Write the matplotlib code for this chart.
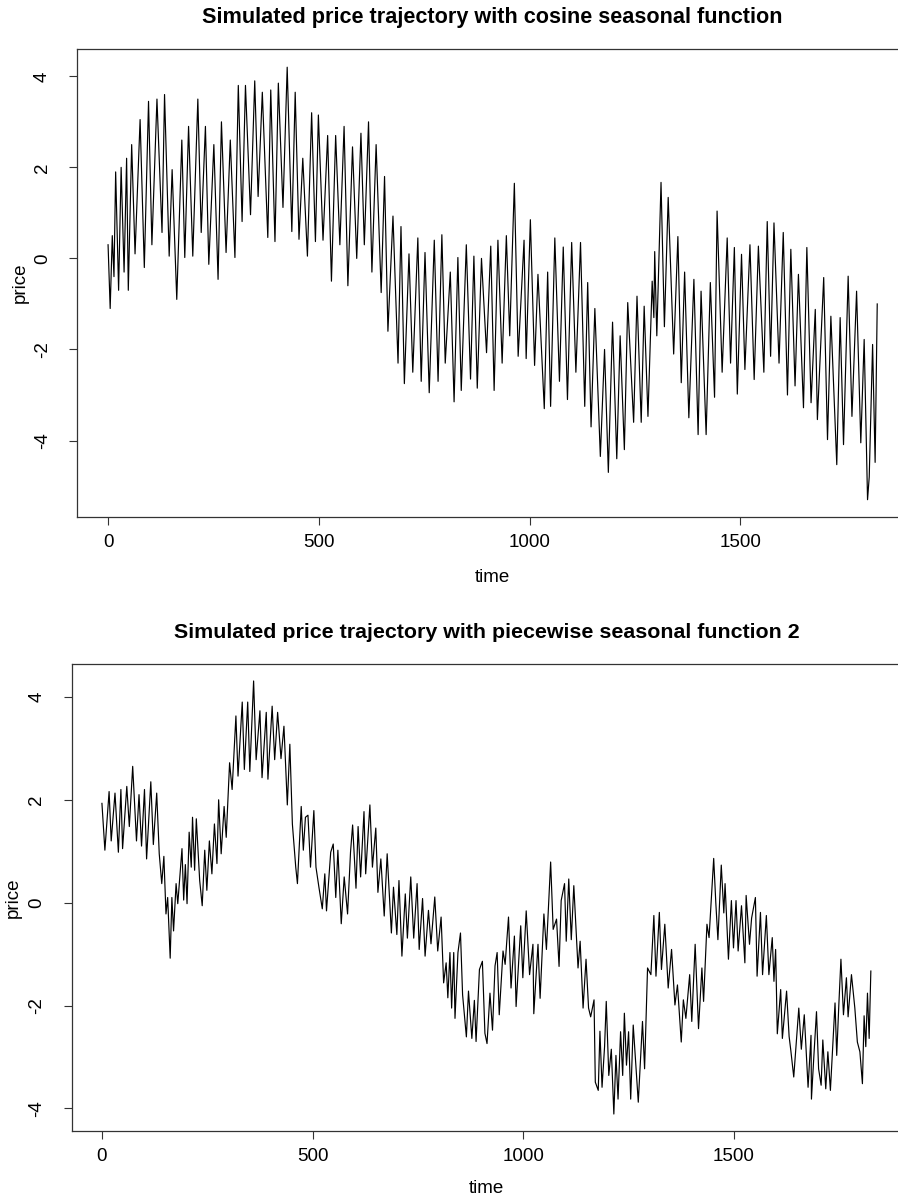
import matplotlib
matplotlib.use("Agg")
import matplotlib.pyplot as plt

plt.rcParams['font.family'] = ['Liberation Sans', 'DejaVu Sans']

# ---------------- data (turning points) ----------------
top_title = "Simulated price trajectory with cosine seasonal function"
bottom_title = "Simulated price trajectory with piecewise seasonal function 2"
x_label = "time"
y_label = "price"
x_ticks = [0, 500, 1000, 1500]
top_y_ticks = [-4, -2, 0, 2, 4]
bottom_y_ticks = [-4, -2, 0, 2, 4]

top_time = [
    0, 5, 10, 14, 18, 25, 31, 38, 44, 48,
    56, 64, 76, 86, 96, 104, 116, 128, 134, 145,
    152, 163, 175, 182, 191, 201, 213, 221, 231, 239,
    251, 261, 269, 280, 290, 301, 309, 318, 326, 338,
    348, 356, 366, 379, 386, 396, 404, 415, 425, 436,
    444, 453, 462, 473, 483, 492, 499, 510, 521, 530,
    540, 550, 560, 569, 580, 590, 600, 608, 618, 626,
    636, 648, 656, 664, 676, 688, 695, 703, 714, 723,
    735, 743, 752, 762, 774, 783, 792, 800, 812, 821,
    830, 838, 850, 860, 868, 876, 886, 898, 908, 916,
    925, 935, 945, 953, 964, 973, 987, 992, 1002, 1012,
    1020, 1035, 1043, 1050, 1060, 1071, 1080, 1090, 1100, 1110,
    1121, 1131, 1138, 1146, 1155, 1168, 1178, 1187, 1197, 1207,
    1215, 1225, 1233, 1247, 1255, 1265, 1272, 1281, 1291, 1295,
    1297, 1302, 1312, 1320, 1329, 1342, 1352, 1360, 1368, 1378,
    1390, 1400, 1407, 1419, 1429, 1439, 1445, 1457, 1469, 1477,
    1486, 1493, 1503, 1511, 1523, 1533, 1543, 1556, 1564, 1572,
    1580, 1592, 1602, 1612, 1620, 1630, 1638, 1650, 1658, 1668,
    1678, 1683, 1698, 1707, 1715, 1729, 1737, 1745, 1756, 1765,
    1776, 1786, 1794, 1802, 1806, 1814, 1820, 1825]

top_price = [
    0.3, -1.1, 0.5, -0.4, 1.9, -0.7, 2.0, -0.3, 2.2, -0.7,
    2.5, 0.1, 3.05, -0.2, 3.45, 0.3, 3.5, 0.57, 3.6, 0.05,
    1.95, -0.9, 2.6, 0.02, 2.9, 0.05, 3.5, 0.57, 2.9, -0.13,
    2.5, -0.46, 3.0, 0.13, 2.6, 0.02, 3.8, 0.81, 3.8, 0.96,
    3.9, 1.36, 3.65, 0.46, 3.7, 0.37, 3.85, 1.12, 4.2, 0.59,
    3.65, 0.42, 2.2, 0.05, 3.2, 0.37, 3.15, 0.4, 2.7, -0.5,
    2.7, 0.3, 2.9, -0.6, 2.45, 0.0, 2.75, 0.3, 3.0, -0.3,
    2.5, -0.75, 1.8, -1.6, 0.93, -2.3, 0.7, -2.75, 0.1, -2.5,
    0.45, -2.7, 0.13, -2.95, 0.4, -2.7, 0.52, -2.3, -0.3, -3.15,
    0.02, -2.9, 0.3, -2.65, 0.05, -2.85, 0.0, -2.07, 0.27, -2.9,
    0.4, -2.3, 0.5, -1.7, 1.65, -2.15, 0.4, -2.2, 0.85, -2.35,
    -0.35, -3.3, -0.3, -3.25, 0.45, -2.7, 0.25, -3.1, 0.35, -2.5,
    0.35, -3.25, -0.53, -3.7, -1.1, -4.35, -2.0, -4.7, -1.4, -4.4,
    -1.7, -4.2, -0.97, -3.6, -0.83, -3.6, -1.05, -3.47, -0.5, -1.3,
    0.15, -1.7, 1.67, -1.5, 1.34, -2.1, 0.48, -2.73, -0.3, -3.5,
    -0.46, -3.87, -0.72, -3.87, -0.53, -3.05, 1.04, -2.5, 0.45, -2.3,
    0.24, -2.98, 0.09, -2.44, 0.3, -2.66, 0.27, -2.5, 0.81, -2.15,
    0.78, -2.3, 0.57, -3.0, 0.2, -2.8, -0.35, -3.28, 0.24, -3.17,
    -1.12, -3.54, -0.42, -3.98, -1.27, -4.53, -1.3, -4.09, -0.39, -3.47,
    -0.72, -4.05, -1.78, -5.3, -4.8, -1.89, -4.48, -1.0]

bottom_time = [
    0, 7, 17, 22, 31, 39, 45, 49, 59, 65,
    73, 82, 88, 94, 101, 106, 116, 122, 130, 136,
    142, 147, 152, 156, 162, 166, 170, 176, 180, 190,
    194, 198, 202, 207, 212, 215, 220, 224, 232, 238,
    244, 249, 255, 261, 267, 273, 277, 283, 290, 295,
    303, 309, 318, 323, 333, 338, 346, 351, 360, 366,
    375, 380, 390, 394, 404, 410, 417, 425, 432, 440,
    446, 452, 460, 464, 473, 478, 483, 489, 495, 503,
    508, 515, 523, 529, 533, 543, 549, 555, 560, 568,
    575, 583, 590, 595, 603, 608, 614, 622, 626, 636,
    642, 650, 655, 662, 670, 677, 687, 692, 700, 705,
    712, 720, 725, 733, 740, 748, 753, 761, 767, 775,
    781, 790, 797, 805, 811, 817, 821, 826, 830, 835,
    838, 845, 851, 856, 865, 870, 878, 884, 888, 896,
    903, 909, 914, 921, 927, 933, 938, 943, 952, 957,
    965, 971, 979, 983, 994, 999, 1007, 1015, 1023, 1025,
    1035, 1040, 1049, 1055, 1065, 1071, 1079, 1085, 1090, 1098,
    1102, 1108, 1114, 1120, 1130, 1135, 1142, 1149, 1155, 1160,
    1168, 1171, 1178, 1182, 1187, 1193, 1197, 1203, 1209, 1215,
    1220, 1225, 1231, 1236, 1240, 1245, 1250, 1255, 1261, 1269,
    1273, 1283, 1288, 1295, 1303, 1310, 1315, 1323, 1328, 1336,
    1344, 1352, 1360, 1366, 1375, 1380, 1386, 1395, 1400, 1408,
    1416, 1424, 1428, 1436, 1441, 1452, 1457, 1462, 1470, 1476,
    1479, 1487, 1494, 1499, 1505, 1510, 1518, 1526, 1529, 1537,
    1542, 1551, 1555, 1563, 1568, 1577, 1583, 1591, 1595, 1599,
    1603, 1611, 1615, 1625, 1631, 1635, 1642, 1654, 1660, 1667,
    1676, 1683, 1684, 1690, 1696, 1701, 1707, 1711, 1718, 1723,
    1729, 1740, 1744, 1749, 1754, 1760, 1767, 1771, 1779, 1787,
    1793, 1799, 1805, 1809, 1813, 1817, 1821, 1825]

bottom_price = [
    1.93, 1.02, 2.16, 1.2, 2.13, 0.98, 2.2, 1.05, 2.26, 1.48,
    2.65, 1.2, 2.1, 1.1, 2.2, 0.85, 2.35, 1.13, 2.13, 0.95,
    0.37, 0.9, -0.22, 0.1, -1.08, 0.1, -0.55, 0.37, -0.02, 1.05,
    0.05, 0.74, -0.02, 1.37, 0.69, 1.66, 0.63, 1.63, 0.43, -0.06,
    1.02, 0.24, 1.2, 0.56, 1.53, 0.76, 2.0, 0.95, 1.87, 1.27,
    2.72, 2.2, 3.63, 2.46, 3.9, 2.59, 3.9, 2.55, 4.31, 2.78,
    3.73, 2.43, 3.7, 2.4, 3.82, 2.78, 3.7, 2.8, 3.43, 1.9,
    3.08, 1.53, 0.69, 0.37, 1.87, 1.02, 1.66, 1.7, 0.69, 1.79,
    0.69, 0.3, -0.12, 0.56, -0.16, 0.98, 1.14, 0.1, 1.02, -0.41,
    0.5, -0.22, 0.98, 1.51, 0.28, 1.48, 0.5, 1.77, 0.56, 1.9,
    0.69, 1.45, 0.2, 0.85, -0.26, 0.95, -0.59, 0.3, -0.62, 0.43,
    -1.04, 0.17, -0.69, 0.5, -0.69, 0.37, -0.91, 0.08, -1.04, -0.15,
    -0.8, 0.11, -0.94, -0.28, -1.56, -1.17, -1.85, -0.97, -2.05, -0.97,
    -2.25, -0.97, -0.59, -1.79, -2.61, -1.72, -2.64, -1.9, -2.7, -1.3,
    -1.14, -2.54, -2.74, -1.76, -2.48, -1.23, -0.97, -2.18, -0.94, -1.2,
    -0.28, -1.66, -0.65, -2.02, -0.45, -1.46, -0.16, -1.4, -0.81, -2.16,
    -0.81, -1.86, -0.22, -0.91, 0.79, -0.52, -0.32, -1.24, 0.04, 0.37,
    -0.75, 0.46, -0.72, 0.33, -1.27, -0.75, -2.05, -1.1, -2.05, -2.22,
    -1.89, -3.49, -3.65, -2.5, -3.59, -2.8, -1.92, -3.36, -2.85, -4.11,
    -2.97, -3.82, -2.51, -3.36, -2.15, -3.16, -2.51, -3.82, -2.38, -3.36,
    -3.88, -2.31, -3.23, -1.27, -1.4, -0.25, -1.43, -0.19, -1.3, -0.42,
    -1.66, -0.91, -1.99, -1.6, -2.71, -1.89, -2.25, -1.4, -2.31, -0.81,
    -2.45, -1.27, -1.92, -0.42, -0.68, 0.86, 0.0, -0.72, 0.73, -0.2,
    0.37, -1.1, 0.04, -0.88, 0.04, -0.94, -0.06, -1.17, 0.14, -0.81,
    -0.3, 0.1, -1.43, -0.19, -1.4, -0.25, -1.4, -0.68, -1.53, -0.91,
    -2.55, -1.69, -2.64, -1.72, -2.6, -2.87, -3.39, -2.05, -2.85, -2.18,
    -3.59, -2.58, -3.82, -2.95, -2.12, -3.23, -3.55, -2.67, -3.62, -2.9,
    -3.65, -1.95, -2.97, -1.99, -1.1, -2.18, -1.46, -2.22, -1.4, -2.05,
    -2.71, -2.9, -3.52, -2.2, -2.8, -1.76, -2.64, -1.33]

assert len(top_time) == len(top_price)
assert len(bottom_time) == len(bottom_price)

# ---------------- figure ----------------
W, H = 898, 1198
fig = plt.figure(figsize=(W / 100, H / 100), dpi=100)


def px_axes(left, top, right, bottom):
    return fig.add_axes([left / W, 1 - bottom / H, (right - left) / W, (bottom - top) / H])


def style(ax, xlim, ylim, yticks, ypad):
    ax.set_xlim(*xlim)
    ax.set_ylim(*ylim)
    ax.set_xticks(x_ticks)
    ax.set_yticks(yticks)
    ax.set_yticklabels([str(v) for v in yticks], rotation=90, va='center')
    ax.tick_params(axis='both', direction='out', length=6, width=0.8,
                   labelsize=13.5, color='#333333')
    ax.tick_params(axis='x', pad=6)
    ax.tick_params(axis='y', pad=ypad)
    for s in ax.spines.values():
        s.set_linewidth(0.9)
        s.set_color('#333333')


ax1 = px_axes(77.3, 49, 908, 517)
ax1.plot(top_time, top_price, color='black', lw=0.85)
style(ax1, (-73, 1898), (-5.68, 4.6), top_y_ticks, 13)
ax1.set_xlabel(x_label, fontsize=13.5, labelpad=13)
ax1.set_ylabel(y_label, fontsize=13.5, labelpad=4)

ax2 = px_axes(71.6, 664, 901.6, 1131)
ax2.plot(bottom_time, bottom_price, color='black', lw=0.85)
style(ax2, (-72, 1898), (-4.44, 4.64), bottom_y_ticks, 13)
ax2.set_xlabel(x_label, fontsize=13.5, labelpad=11)
ax2.set_ylabel(y_label, fontsize=13.5, labelpad=4.5)

fig.text(492 / W, 1 - 18 / H, top_title, ha='center', va='center',
         fontsize=15.6, fontweight='bold')
fig.text(487 / W, 1 - 632 / H, bottom_title, ha='center', va='center',
         fontsize=15.4, fontweight='bold')

fig.savefig("out.png", dpi=100)
